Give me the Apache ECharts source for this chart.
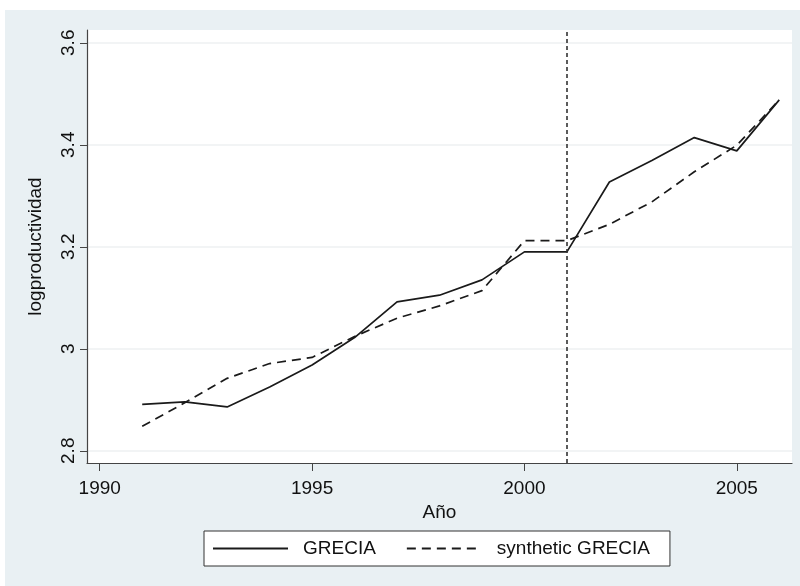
<!DOCTYPE html>
<html>
<head>
<meta charset="utf-8">
<script src="https://cdn.jsdelivr.net/npm/echarts@6/dist/echarts.min.js"></script>
<style>
html,body{margin:0;padding:0;background:#fff;}
#chart{width:800px;height:586px;}
</style>
</head>
<body>
<div id="chart"></div>
<script>
const years = [1991,1992,1993,1994,1995,1996,1997,1998,1999,2000,2001,2002,2003,2004,2005,2006];
const grecia = [2.891,2.896,2.886,2.925,2.968,3.022,3.092,3.105,3.135,3.190,3.190,3.327,3.369,3.414,3.388,3.488];
const synthetic = [2.848,2.894,2.942,2.971,2.983,3.024,3.060,3.084,3.114,3.212,3.212,3.244,3.288,3.347,3.399,3.488];
const xTicks = [1990,1995,2000,2005];
const yTicks = [2.8,3,3.2,3.4,3.6];
const treatmentYear = 2001;
const seriesNames = ['GRECIA','synthetic GRECIA'];

const chart = echarts.init(document.getElementById('chart'), null, {renderer:'canvas'});
const font = 'Arial, "Liberation Sans", sans-serif';
chart.setOption({
  animation:false,
  backgroundColor:'#ffffff',
  graphic:[{type:'rect', z:-10, shape:{x:5,y:10,width:795,height:576}, style:{fill:'#e9f0f3'}}],
  grid:{left:87, top:30, right:8, bottom:123, show:true, backgroundColor:'#ffffff', borderWidth:0},
  xAxis:{
    type:'value', min:1989.7, max:2006.3,
    name:'Año', nameLocation:'middle', nameGap:36,
    nameTextStyle:{fontFamily:font, fontSize:19, color:'#111'},
    axisLine:{show:true, lineStyle:{color:'#444', width:1.2}},
    axisTick:{show:true, inside:false, length:8, customValues:xTicks, lineStyle:{color:'#444'}},
    axisLabel:{customValues:xTicks, margin:16, fontFamily:font, fontSize:19, color:'#111',
      formatter:function(v){return String(v);}},
    splitLine:{show:false}
  },
  yAxis:{
    type:'value', min:2.776, max:3.625,
    name:'logproductividad', nameLocation:'middle', nameRotate:90, nameGap:42,
    nameTextStyle:{fontFamily:font, fontSize:19, color:'#111'},
    axisLine:{show:true, lineStyle:{color:'#444', width:1.2}},
    axisTick:{show:true, inside:false, length:7, customValues:yTicks, lineStyle:{color:'#444'}},
    axisLabel:{customValues:yTicks, rotate:90, margin:9, fontFamily:font, fontSize:19, color:'#111'},
    splitLine:{show:true, lineStyle:{color:'#eef1f2', width:1.5}}
  },
  legend:{
    left:204, top:531,
    data:seriesNames,
    backgroundColor:'#ffffff', borderColor:'#333', borderWidth:1,
    padding:[8,20,8,8], itemGap:30, itemWidth:75, itemHeight:14,
    itemStyle:{color:'rgba(0,0,0,0)', borderColor:'rgba(0,0,0,0)', borderWidth:0, opacity:0},
    textStyle:{fontFamily:font, fontSize:19, color:'#111', padding:[0,0,0,10]}
  },
  series:[
    {
      name:seriesNames[0], type:'line', symbol:'none',
      data:years.map((y,i)=>[y,grecia[i]]),
      lineStyle:{color:'#1a1a1a', width:1.7, type:'solid'},
      itemStyle:{color:'#1a1a1a'},
      markLine:{
        silent:true, symbol:'none', label:{show:false},
        lineStyle:{color:'#333', width:1.6, type:[4,3]},
        data:[{xAxis:treatmentYear}]
      }
    },
    {
      name:seriesNames[1], type:'line', symbol:'none',
      data:years.map((y,i)=>[y,synthetic[i]]),
      lineStyle:{color:'#1a1a1a', width:1.7, type:[9,6]},
      itemStyle:{color:'#1a1a1a'}
    }
  ]
});
</script>
</body>
</html>
